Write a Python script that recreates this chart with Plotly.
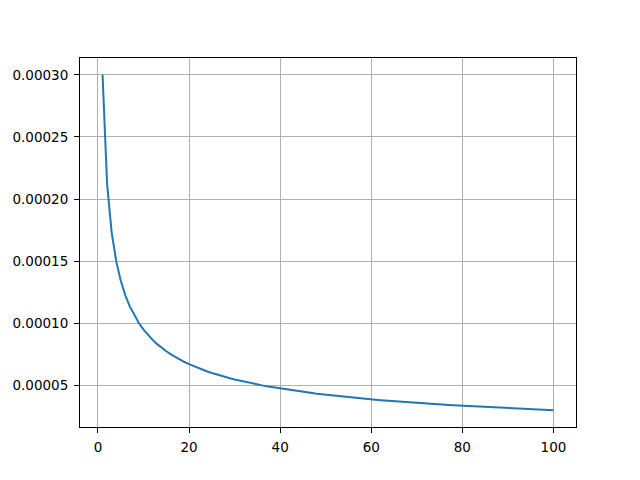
import plotly.graph_objects as go

x_vals = list(range(1, 101))
y_e4 = [
    3.000, 2.121, 1.732, 1.500, 1.342, 1.225, 1.134, 1.061, 1.000, 0.949,
    0.905, 0.866, 0.832, 0.802, 0.775, 0.750, 0.728, 0.707, 0.688, 0.671,
    0.655, 0.640, 0.626, 0.612, 0.600, 0.588, 0.577, 0.567, 0.557, 0.548,
    0.539, 0.530, 0.522, 0.514, 0.507, 0.500, 0.493, 0.487, 0.480, 0.474,
    0.469, 0.463, 0.457, 0.452, 0.447, 0.442, 0.438, 0.433, 0.429, 0.424,
    0.420, 0.416, 0.412, 0.408, 0.405, 0.401, 0.397, 0.394, 0.391, 0.387,
    0.384, 0.381, 0.378, 0.375, 0.372, 0.369, 0.367, 0.364, 0.361, 0.359,
    0.356, 0.354, 0.351, 0.349, 0.346, 0.344, 0.342, 0.340, 0.338, 0.335,
    0.333, 0.331, 0.329, 0.327, 0.325, 0.323, 0.322, 0.320, 0.318, 0.316,
    0.314, 0.313, 0.311, 0.309, 0.308, 0.306, 0.305, 0.303, 0.302, 0.300,
]
y_vals = [v * 1e-4 for v in y_e4]

x_ticks = [0, 20, 40, 60, 80, 100]
y_ticks = [0.00005, 0.00010, 0.00015, 0.00020, 0.00025, 0.00030]
y_tick_labels = ["0.00005", "0.00010", "0.00015", "0.00020", "0.00025", "0.00030"]

fig = go.Figure()
fig.add_trace(go.Scatter(x=x_vals, y=y_vals, mode="lines",
                         line=dict(color="#1f77b4", width=2)))

axis_common = dict(showline=True, linecolor="black", linewidth=1, mirror=True,
                   ticks="outside", ticklen=5, tickwidth=1, tickcolor="black",
                   showgrid=True, gridcolor="#b0b0b0", gridwidth=1, zeroline=False,
                   ticklabelstandoff=3, automargin=False,
                   tickfont=dict(family="DejaVu Sans", size=13.5, color="black"))

fig.update_layout(
    width=640, height=480,
    margin=dict(l=72, r=72, t=50, b=61),
    paper_bgcolor="white", plot_bgcolor="white",
    showlegend=False,
    xaxis=dict(range=[-3.95, 104.95], tickvals=x_ticks, **axis_common),
    yaxis=dict(range=[0.0000165, 0.0003135], tickvals=y_ticks,
               ticktext=y_tick_labels, **axis_common),
)

fig.write_html("out.html")
